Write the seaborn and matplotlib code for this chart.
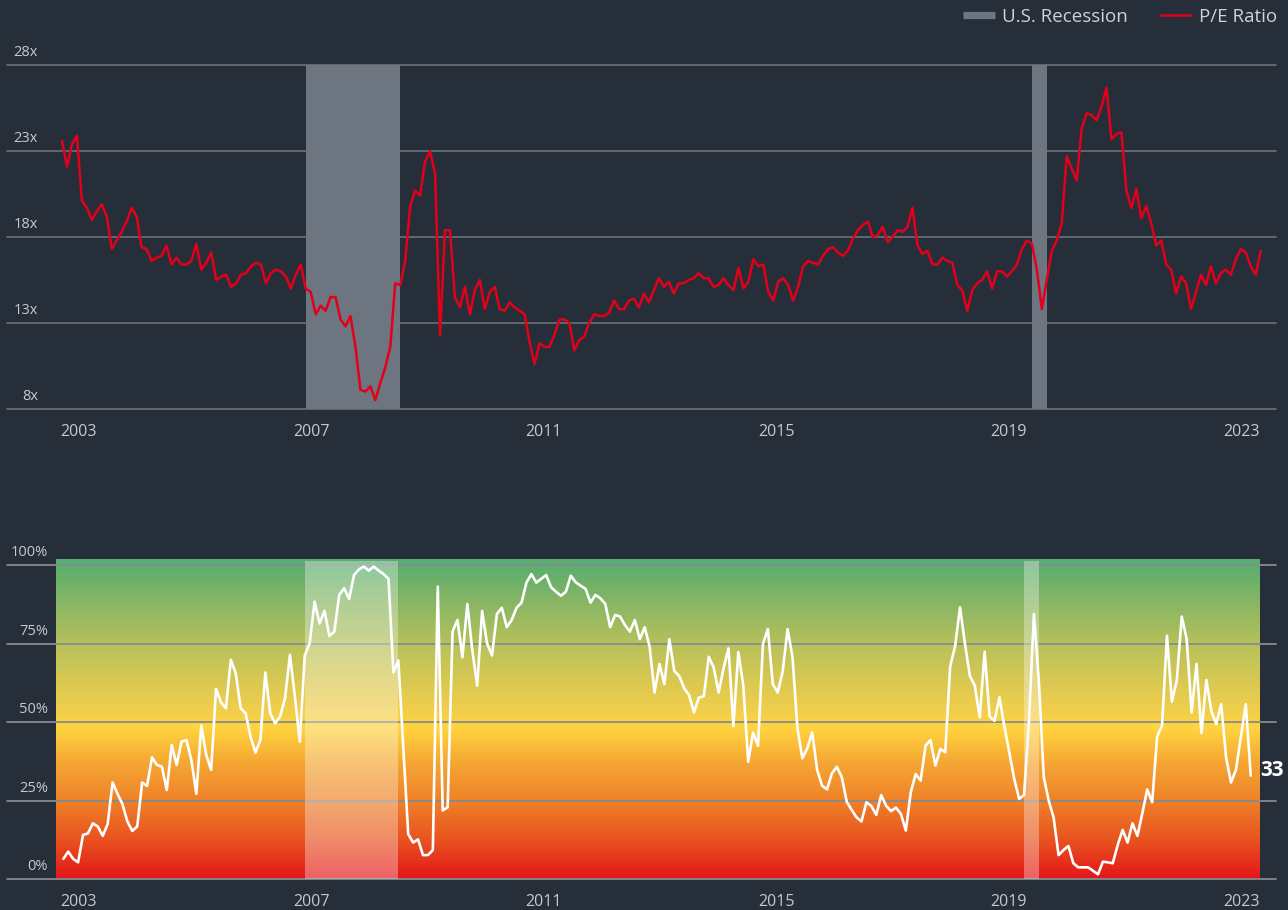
import numpy as np
import pandas as pd
import matplotlib
matplotlib.use("Agg")
import matplotlib.pyplot as plt
import matplotlib.transforms as mtransforms
from matplotlib.colors import LinearSegmentedColormap
from matplotlib.lines import Line2D
import seaborn as sns

# ---------------------------------------------------------------- data
months = pd.period_range("2003-11", "2023-12", freq="M")

pe_ratio = [
    23.6, 22.1, 23.4, 23.9, 20.1, 19.7, 19.0, 19.5, 19.9, 19.2,
    17.3, 17.8, 18.3, 18.9, 19.7, 19.2, 17.4, 17.3, 16.6, 16.8,
    16.9, 17.5, 16.4, 16.8, 16.4, 16.4, 16.6, 17.6, 16.1, 16.5,
    17.1, 15.5, 15.7, 15.8, 15.1, 15.3, 15.8, 15.9, 16.3, 16.5,
    16.4, 15.3, 15.9, 16.1, 16.0, 15.7, 15.0, 15.8, 16.4, 15.0,
    14.8, 13.5, 14.0, 13.7, 14.5, 14.5, 13.2, 12.8, 13.4, 11.6,
    9.1, 9.0, 9.3, 8.5, 9.5, 10.4, 11.6, 15.3, 15.2, 16.6,
    19.8, 20.7, 20.4, 22.4, 23.0, 21.7, 12.3, 18.4, 18.4, 14.5,
    13.9, 15.1, 13.5, 14.9, 15.5, 13.8, 14.8, 15.1, 13.8, 13.7,
    14.2, 13.9, 13.7, 13.5, 11.9, 10.6, 11.8, 11.6, 11.6, 12.3,
    13.2, 13.2, 13.0, 11.4, 12.0, 12.2, 13.0, 13.5, 13.4, 13.4,
    13.6, 14.3, 13.8, 13.8, 14.3, 14.4, 13.9, 14.7, 14.2, 14.9,
    15.6, 15.1, 15.4, 14.7, 15.3, 15.3, 15.5, 15.6, 15.9, 15.6,
    15.6, 15.1, 15.2, 15.6, 15.2, 14.9, 16.2, 15.0, 15.4, 16.7,
    16.3, 16.4, 14.8, 14.3, 15.4, 15.6, 15.2, 14.3, 15.1, 16.3,
    16.6, 16.5, 16.4, 16.9, 17.3, 17.4, 17.1, 16.9, 17.2, 17.9,
    18.4, 18.7, 18.9, 18.0, 18.1, 18.6, 17.7, 18.0, 18.4, 18.3,
    18.6, 19.7, 17.5, 17.0, 17.2, 16.4, 16.4, 16.8, 16.6, 16.5,
    15.2, 14.9, 13.7, 14.9, 15.3, 15.5, 16.0, 15.0, 16.0, 16.0,
    15.7, 16.0, 16.4, 17.3, 17.8, 17.6, 16.1, 13.8, 15.5, 17.2,
    17.8, 18.8, 22.7, 22.0, 21.3, 24.3, 25.2, 25.1, 24.8, 25.6,
    26.7, 23.7, 24.0, 24.1, 20.7, 19.7, 20.8, 19.1, 19.8, 18.8,
    17.5, 17.8, 16.4, 16.1, 14.7, 15.7, 15.3, 13.8, 14.8, 15.8,
    15.2, 16.3, 15.3, 15.9, 16.1, 15.8, 16.7, 17.3, 17.1, 16.3,
    15.8, 17.2,
]

pe_percentile = [
    6.5, 8.8, 6.5, 5.4, 14.1, 14.6, 17.8, 16.8, 13.8, 17.6,
    30.8, 27.2, 23.9, 18.4, 15.4, 16.8, 30.8, 29.7, 38.8, 36.4,
    35.8, 28.4, 42.7, 36.4, 43.8, 44.3, 37.8, 27.2, 48.9, 39.6,
    34.8, 60.6, 56.3, 54.4, 69.8, 65.5, 54.4, 52.8, 45.4, 40.3,
    44.3, 65.8, 52.8, 49.6, 51.8, 57.6, 71.4, 58.1, 43.8, 71.2,
    75.1, 88.3, 81.4, 85.4, 77.4, 78.8, 90.5, 92.6, 89.2, 96.8,
    98.6, 99.5, 98.2, 99.5, 98.2, 97.1, 95.6, 65.8, 69.6, 42.2,
    14.4, 11.7, 12.7, 7.7, 7.7, 9.3, 93.1, 21.9, 22.9, 78.8,
    82.5, 70.6, 87.6, 73.0, 61.6, 85.4, 75.1, 71.2, 84.4, 86.4,
    80.2, 82.5, 86.4, 88.0, 94.4, 97.1, 94.4, 95.6, 96.8, 92.9,
    91.5, 90.2, 91.5, 96.6, 94.5, 93.4, 92.4, 88.0, 90.5, 89.4,
    87.6, 80.2, 84.1, 83.6, 80.9, 78.8, 82.5, 76.4, 80.2, 74.0,
    59.4, 68.5, 62.1, 76.4, 66.3, 64.7, 60.8, 58.6, 53.1, 57.8,
    58.3, 70.8, 67.4, 59.4, 67.1, 73.5, 48.8, 72.3, 61.8, 37.4,
    46.7, 42.5, 74.9, 79.6, 62.1, 59.4, 66.1, 79.6, 70.6, 48.0,
    38.5, 41.7, 46.7, 34.8, 29.8, 28.6, 33.7, 35.8, 32.5, 24.7,
    22.1, 19.7, 18.4, 24.5, 23.3, 20.5, 26.8, 23.4, 21.7, 22.8,
    20.8, 15.5, 27.7, 33.5, 31.4, 42.5, 44.3, 36.2, 41.5, 40.4,
    67.7, 74.2, 86.5, 74.9, 64.7, 61.6, 51.5, 72.4, 51.8, 50.4,
    57.9, 48.6, 40.4, 31.9, 25.6, 26.8, 50.7, 84.4, 62.9, 32.5,
    25.0, 19.6, 7.7, 9.3, 10.6, 5.1, 3.8, 3.8, 3.8, 2.7,
    1.6, 5.6, 5.4, 5.1, 10.9, 15.7, 11.7, 17.8, 13.8, 21.0,
    28.6, 24.5, 45.4, 48.9, 77.5, 56.5, 63.4, 83.6, 76.4, 53.1,
    68.5, 46.5, 63.4, 53.6, 49.4, 55.7, 38.8, 30.8, 34.8, 45.4,
    55.7, 33.0,
]

recessions = [("2007-12", "2009-06"), ("2020-02", "2020-04")]

pe_ticks = [8, 13, 18, 23, 28]
pct_ticks = [0, 25, 50, 75, 100]
year_labels = ["2003", "2007", "2011", "2015", "2019", "2023"]

# ---------------------------------------------------------------- style
BG = "#252e39"
GRID = "#6b727a"
REC_GREY = "#6d7580"
RED = "#e2001a"
TXT = "#c5cad0"

sns.set_theme(style="dark", rc={
    "figure.facecolor": BG, "axes.facecolor": BG, "savefig.facecolor": BG,
    "axes.edgecolor": BG,
})
plt.rcParams["font.family"] = ["Open Sans", "DejaVu Sans"]

df = pd.DataFrame({
    "month": months.astype(str),
    "idx": np.arange(len(months)),
    "pe": pe_ratio,
    "pct": pe_percentile,
})
month_pos = {m: i for i, m in enumerate(df["month"])}
rec_spans = [(month_pos[s], month_pos[e] + 1) for s, e in recessions]

W, H = 1288, 910
fig = plt.figure(figsize=(W / 100, H / 100), dpi=100)

# tick label positions as fractions of the axis width
tick_frac = np.linspace(0.0567, 0.9725, len(year_labels))


def finish_axis(ax, label_y, label_right, tick_fmt, ticks, xlab_y):
    ax.set_xticks([])
    ax.set_yticks([])
    ax.set(xlabel="", ylabel="")
    for sp in ax.spines.values():
        sp.set_visible(False)
    ytrans = ax.get_yaxis_transform()
    for v in ticks:
        ax.annotate(tick_fmt(v), xy=(label_right, v), xycoords=ytrans,
                    xytext=(0, 3.5), textcoords="offset points",
                    ha="right", va="bottom", color=TXT, fontsize=10.5)
    x0, x1 = ax.get_xlim()
    xtrans = ax.get_xaxis_transform()
    for f, lab in zip(tick_frac, year_labels):
        ax.text(x0 + f * (x1 - x0), xlab_y, lab, transform=xtrans,
                ha="center", va="center", color=TXT, fontsize=11.5)


# ---------------------------------------------------------------- P/E panel
ax1 = fig.add_axes([7 / W, 1 - 408.7 / H, 1269 / W, 343.4 / H])
ax1.set_xlim(-11.06, 244.08)
ax1.set_ylim(8, 28)
for v in pe_ticks:
    ax1.axhline(v, color=GRID, lw=1.2, zorder=1, clip_on=False)
for s, e in rec_spans:
    ax1.axvspan(s, e, color=REC_GREY, lw=0, zorder=2)
sns.lineplot(data=df, x="idx", y="pe", ax=ax1, color=RED, lw=1.8,
             zorder=3, legend=False)
ax1.set_xlim(-11.06, 244.08)
ax1.set_ylim(8, 28)
finish_axis(ax1, None, 0.0244, lambda v: f"{v}x", pe_ticks, -0.068)

# ---------------------------------------------------------------- percentile panel
ax2 = fig.add_axes([7 / W, 1 - 879.3 / H, 1269 / W, 320.6 / H])
top = 102
stops = [
    (0, "#e3161a"), (12, "#e8521f"), (25, "#ef8229"), (37, "#f5a733"),
    (48, "#ffd43f"), (53, "#f3cf4a"), (62, "#dbc952"), (75, "#b6c15b"),
    (88, "#88b664"), (100, "#5aae6e"), (102, "#57ad70"),
]
cmap = LinearSegmentedColormap.from_list(
    "valuation", [(p / top, c) for p, c in stops])
grad = np.linspace(0, top, 600).reshape(-1, 1)
n = len(df)
ax2.imshow(grad, extent=(-1.5, n - 1 + 1.7, 0, top), origin="lower",
           aspect="auto", cmap=cmap, vmin=0, vmax=top, zorder=0,
           interpolation="bilinear")
for v in pct_ticks:
    ax2.axhline(v, color="#878b8e", lw=1.3, zorder=1, clip_on=False)
for s, e in rec_spans:
    ax2.fill_between([s, e], 0, 101.3, color="white", alpha=0.33, lw=0,
                     zorder=2)
sns.lineplot(data=df, x="idx", y="pct", ax=ax2, color="white", lw=1.9,
             zorder=3, legend=False)
ax2.set_xlim(-11.43, 246.13)
ax2.set_ylim(0, top)
finish_axis(ax2, None, 0.0323, lambda v: f"{v}%", pct_ticks, -0.071)

last = df["pct"].iloc[-1]
ax2.annotate(f"{last:.0f}", xy=(df["idx"].iloc[-1], last),
             xytext=(6.8, 4), textcoords="offset points",
             ha="left", va="center", color="white", fontsize=15,
             fontweight="bold", zorder=4)

# ---------------------------------------------------------------- legend
handles = [
    Line2D([], [], color=REC_GREY, lw=5.2, solid_capstyle="butt"),
    Line2D([], [], color=RED, lw=1.8, solid_capstyle="butt"),
]
fig.legend(handles, ["U.S. Recession", "P/E Ratio"], ncol=2,
           loc="center right", bbox_to_anchor=(1277 / W, 1 - 17 / H),
           bbox_transform=fig.transFigure, frameon=False, fontsize=13.5,
           labelcolor="#cfd3d8", handlelength=1.75, handletextpad=0.35,
           columnspacing=1.7, borderpad=0, borderaxespad=0)

fig.savefig("out.png", dpi=100, facecolor=BG)
